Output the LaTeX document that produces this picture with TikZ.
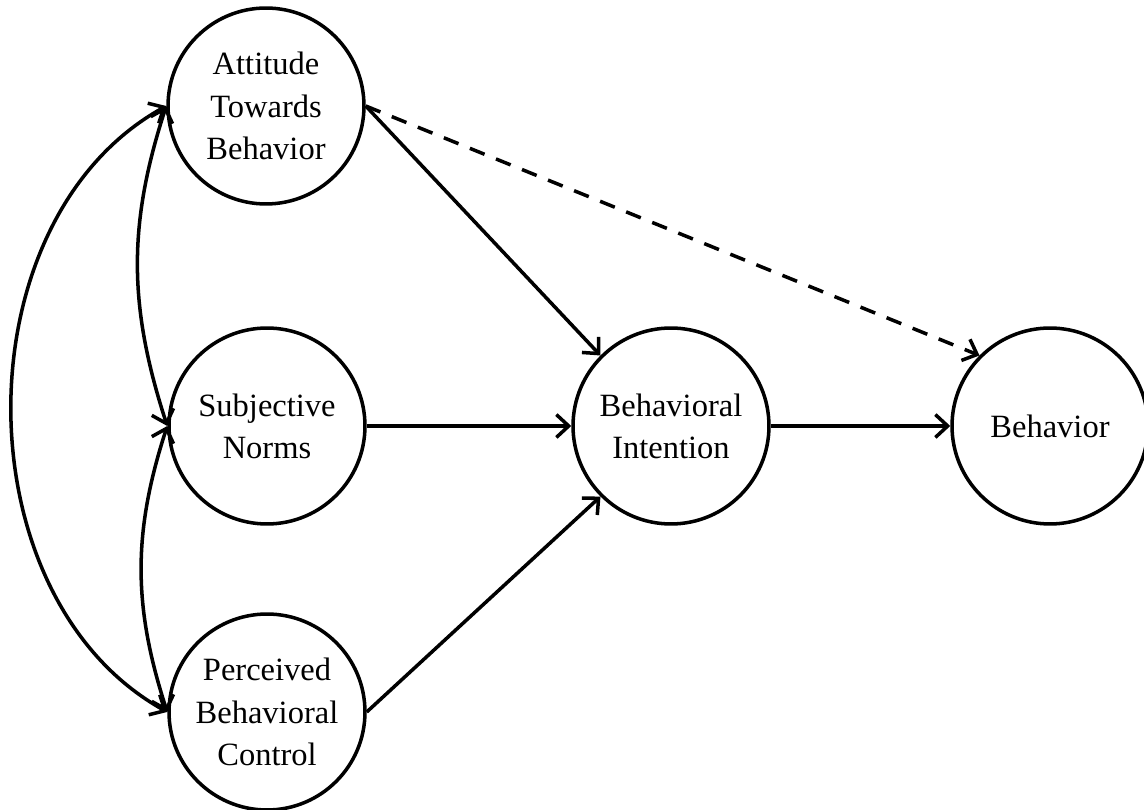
\documentclass[tikz,border=0pt]{standalone}
\usepackage{fontspec}
\setmainfont{Liberation Serif}
\usetikzlibrary{arrows.meta}

\begin{document}
\begin{tikzpicture}[x=0.02cm, y=-0.02cm, >={Straight Barb[length=7pt,width=13pt]}, line width=2pt,
                    latent/.style={circle, draw, minimum size=3.92cm, inner sep=0pt, align=center, font=\fontsize{18.5}{24}\selectfont}]
                    \useasboundingbox (0,0) rectangle (1144,810);

                    % constructs
                    \node [latent] (att) at (266,106) {Attitude\\Towards\\Behavior};
                    \node [latent] (sn) at (267,426) {Subjective\\Norms};
                    \node [latent] (pbc) at (267,712) {Perceived\\Behavioral\\Control};
                    \node [latent] (bi) at (671,426) {Behavioral\\Intention};
                    \node [latent] (beh) at (1050,426) {Behavior};

                    % correlations
                    \draw [<->] (att.west) to [out=252, in=108] (sn.west);
                    \draw [<->] (sn.west) to [out=252, in=108] (pbc.west);
                    \draw [<->] (att.west) to [out=209, in=151] (pbc.west);

                    % paths
                    \draw [->] (att.east) -- (bi.north west);
                    \draw [->] (sn) -- (bi);
                    \draw [->] (pbc.east) -- (bi.south west);
                    \draw [->] (bi) -- (beh);
                    \draw [->, dash pattern=on 9pt off 7pt] (att.east) -- (beh.north west);
                \end{tikzpicture}
\end{document}
